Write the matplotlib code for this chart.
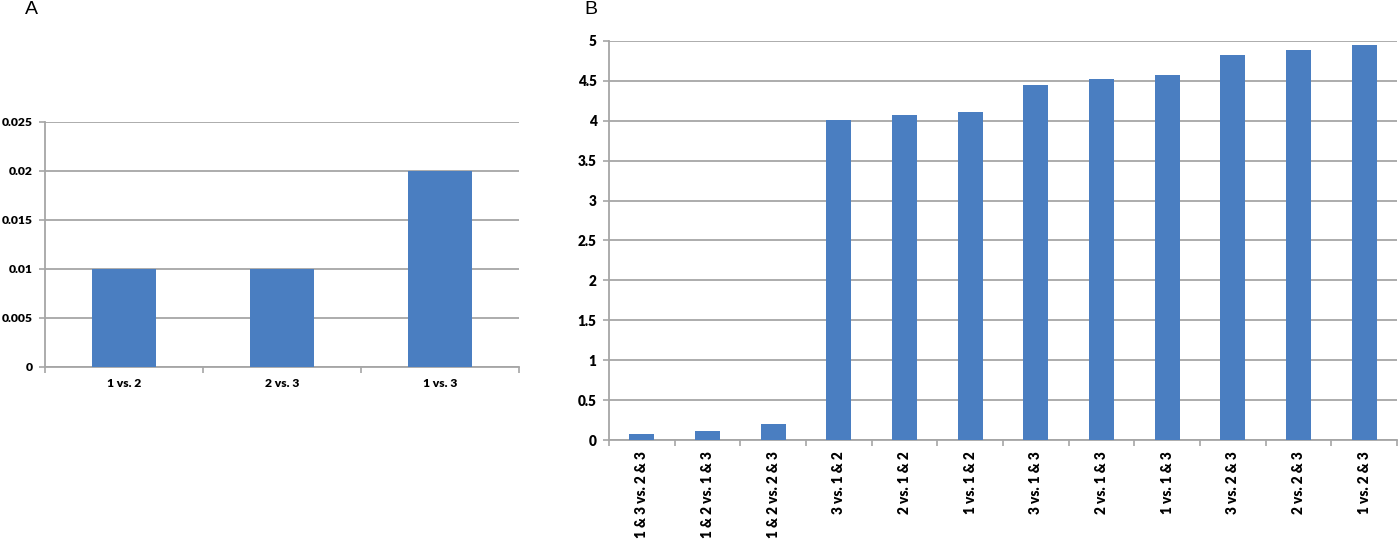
import matplotlib
matplotlib.use("Agg")
import matplotlib.pyplot as plt
import numpy as np

# Panel A data
cats_a = ["1 vs. 2", "2 vs. 3", "1 vs. 3"]
vals_a = [0.01, 0.01, 0.02]
yticks_a = [0, 0.005, 0.01, 0.015, 0.02, 0.025]
yticklabels_a = ["0", "0.005", "0.01", "0.015", "0.02", "0.025"]

# Panel B data
cats_b = ["1 & 3 vs. 2 & 3", "1 & 2 vs. 1 & 3", "1 & 2 vs. 2 & 3",
          "3 vs. 1 & 2", "2 vs. 1 & 2", "1 vs. 1 & 2",
          "3 vs. 1 & 3", "2 vs. 1 & 3", "1 vs. 1 & 3",
          "3 vs. 2 & 3", "2 vs. 2 & 3", "1 vs. 2 & 3"]
vals_b = [0.08, 0.11, 0.20, 4.01, 4.075, 4.11, 4.45, 4.53, 4.58, 4.82, 4.89, 4.95]
yticks_b = [0, 0.5, 1, 1.5, 2, 2.5, 3, 3.5, 4, 4.5, 5]
yticklabels_b = ["0", "0.5", "1", "1.5", "2", "2.5", "3", "3.5", "4", "4.5", "5"]

BAR = "#4A7EC1"
GRID = "#A6A6A6"
TICKFONT = ["Lato", "DejaVu Sans"]

W, H = 1400, 543
fig = plt.figure(figsize=(W / 100, H / 100), dpi=100)


def px_axes(l, r, t, b):
    return fig.add_axes([l / W, 1 - b / H, (r - l) / W, (b - t) / H])


def style(ax, n, yticks, ylabels, fs_y):
    ax.set_xlim(-0.5, n - 0.5)
    ax.set_ylim(yticks[0], yticks[-1])
    ax.set_yticks(yticks)
    ax.set_yticklabels(ylabels, fontsize=fs_y, fontweight="heavy", family=TICKFONT)
    ax.yaxis.grid(True, color=GRID, linewidth=1.3)
    ax.set_axisbelow(True)
    for s in ["top", "right"]:
        ax.spines[s].set_visible(False)
    for s in ["left", "bottom"]:
        ax.spines[s].set_color(GRID)
        ax.spines[s].set_linewidth(1.3)
    ax.tick_params(axis="y", length=4, color=GRID, width=1.2, pad=5)
    # category boundary ticks on x
    ax.set_xticks(np.arange(-0.5, n + 0.5, 1), minor=True)
    ax.tick_params(axis="x", which="minor", length=4, color=GRID, width=1.2)
    ax.tick_params(axis="x", which="major", length=0)


# Panel A
axA = px_axes(45, 519, 121.5, 366.5)
xa = np.arange(len(cats_a))
axA.bar(xa, vals_a, width=0.4, color=BAR, zorder=3)
style(axA, len(cats_a), yticks_a, yticklabels_a, 8.7)
axA.set_xticks(xa)
axA.set_xticklabels(cats_a, fontsize=8.7, fontweight="heavy", family=TICKFONT)
axA.tick_params(axis="x", which="major", pad=8)

# Panel B
axB = px_axes(609, 1397, 41, 440)
xb = np.arange(len(cats_b))
axB.bar(xb, vals_b, width=0.38, color=BAR, zorder=3)
style(axB, len(cats_b), yticks_b, yticklabels_b, 9.8)
axB.set_xticks(xb)
axB.set_xticklabels(cats_b, fontsize=9.8, fontweight="heavy", family=TICKFONT,
                    rotation=90, va="top", ha="center")
axB.tick_params(axis="x", which="major", pad=8)

fig.text(31 / W, 1 - 10 / H, "A", fontsize=14, family=["Liberation Sans", "DejaVu Sans"],
         ha="center", va="center")
fig.text(591 / W, 1 - 10 / H, "B", fontsize=14, family=["Liberation Sans", "DejaVu Sans"],
         ha="center", va="center")

fig.savefig("out.png", dpi=100)
